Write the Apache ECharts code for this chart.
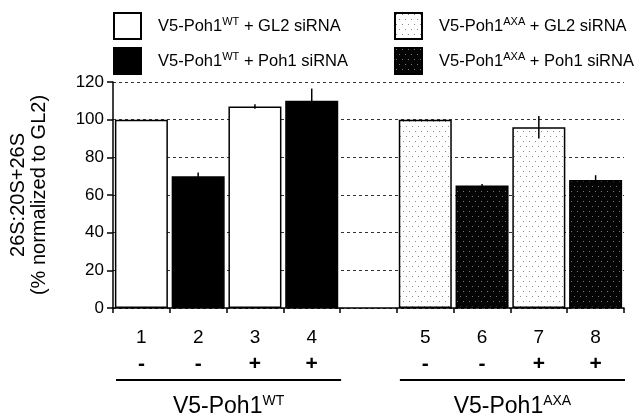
<!DOCTYPE html>
<html><head><meta charset="utf-8">
<script src="https://cdn.jsdelivr.net/npm/echarts@6/dist/echarts.min.js"></script>
<style>html,body{margin:0;padding:0;background:#fff}#c{width:637px;height:413px}</style>
</head><body><div id="c"></div>
<script>
const categories = ['1','2','3','4','','5','6','7','8'];
const signs = ['-','-','+','+','','-','-','+','+'];
const seriesNames = ['V5-Poh1WT + GL2 siRNA','V5-Poh1WT + Poh1 siRNA','V5-Poh1AXA + GL2 siRNA','V5-Poh1AXA + Poh1 siRNA'];
const wtGL2   = [100, null, 107, null, null, null, null, null, null];
const wtPoh1  = [null, 70, null, 110, null, null, null, null, null];
const axaGL2  = [null, null, null, null, null, 100, null, 96, null];
const axaPoh1 = [null, null, null, null, null, null, 65, null, 68];
const errors  = [0, 2, 1.2, 6.5, null, 0, 0.8, 6, 2.5];
const groupLabels = ['V5-Poh1{sup|WT}', 'V5-Poh1{sup|AXA}'];
const groupRanges = [[0, 3], [5, 8]];

const FONT = 'Liberation Sans, Arial, sans-serif';

function pattern(bg, dot) {
  const c = document.createElement('canvas');
  c.width = 6; c.height = 10;
  const g = c.getContext('2d');
  g.fillStyle = bg; g.fillRect(0, 0, 6, 10);
  g.fillStyle = dot;
  g.fillRect(1, 1, 1, 1);
  g.fillRect(4, 6, 1, 1);
  return { image: c, repeat: 'repeat' };
}
const fills = ['#ffffff', '#000000', pattern('#ffffff', '#8a8a8a'), pattern('#050505', '#777777')];
const seriesData = [wtGL2, wtPoh1, axaGL2, axaPoh1];

const combined = categories.map((c, i) => {
  for (const s of seriesData) if (s[i] != null) return s[i];
  return null;
});
const errData = [];
combined.forEach((v, i) => {
  if (v != null && errors[i]) errData.push([i, v - errors[i], v + errors[i]]);
});

const chart = echarts.init(document.getElementById('c'));
const supRich = { sup: { fontSize: 11, fontFamily: FONT, color: '#000', verticalAlign: 'top', padding: [0, 0, 8, 0] } };
const legendBase = {
  orient: 'vertical', top: 12, itemWidth: 27, itemHeight: 26, itemGap: 7, padding: 0,
  icon: 'rect',
  formatter: n => n.replace(/WT|AXA/, '{sup|$&}'),
  textStyle: { fontSize: 16.5, fontFamily: FONT, color: '#000', padding: [0, 0, 0, 12], rich: supRich }
};

chart.setOption({
  animation: false,
  textStyle: { fontFamily: FONT, color: '#000' },
  legend: [
    Object.assign({}, legendBase, { left: 113, data: [seriesNames[0], seriesNames[1]] }),
    Object.assign({}, legendBase, { left: 394, data: [seriesNames[2], seriesNames[3]] })
  ],
  grid: { left: 111, right: 13, top: 82, bottom: 105 },
  xAxis: {
    type: 'category', data: categories, boundaryGap: true,
    axisLine: { lineStyle: { color: '#000', width: 1.5 } },
    axisTick: { show: true, length: 5, lineStyle: { color: '#000', width: 1.5 } },
    axisLabel: {
      interval: 0, margin: 17, color: '#000',
      formatter: (v, i) => v ? `{n|${v}}\n{s|${signs[i]}}` : '',
      rich: {
        n: { fontSize: 19, lineHeight: 26, fontFamily: FONT, color: '#000' },
        s: { fontSize: 21, lineHeight: 26, fontWeight: 'bold', fontFamily: FONT, color: '#000' }
      }
    }
  },
  yAxis: {
    type: 'value', min: 0, max: 120, interval: 20,
    name: '26S:20S+26S\n(% normalized to GL2)',
    nameLocation: 'middle', nameRotate: 90, nameGap: 63,
    nameTextStyle: { fontSize: 20, lineHeight: 21, color: '#000', fontFamily: FONT },
    axisLine: { show: true, lineStyle: { color: '#000', width: 1.5 } },
    axisTick: { show: true, length: 6, lineStyle: { color: '#000', width: 1.5 } },
    axisLabel: { fontSize: 17, color: '#000', margin: 9 },
    splitLine: { show: true, lineStyle: { color: '#333', type: [3, 3], width: 1 } }
  },
  series: seriesData.map((d, k) => ({
    name: seriesNames[k], type: 'bar', data: d, barWidth: 53, barGap: '-100%',
    itemStyle: { color: fills[k], borderColor: '#000', borderWidth: 1.5 }
  })).concat([{
    type: 'custom', data: errData, encode: { x: 0, y: [1, 2] }, z: 10,
    renderItem: (params, api) => {
      const p1 = api.coord([api.value(0), api.value(1)]);
      const p2 = api.coord([api.value(0), api.value(2)]);
      return { type: 'line', shape: { x1: p1[0], y1: p1[1], x2: p2[0], y2: p2[1] }, style: { stroke: '#000', lineWidth: 1.5 } };
    }
  }])
});

const c0 = chart.convertToPixel({ xAxisIndex: 0 }, 0);
const c1 = chart.convertToPixel({ xAxisIndex: 0 }, 1);
const band = c1 - c0;
const y0 = chart.convertToPixel({ yAxisIndex: 0 }, 0);
const graphics = [];
groupRanges.forEach((r, k) => {
  const xa = chart.convertToPixel({ xAxisIndex: 0 }, r[0]) - band / 2 + 3;
  const xb = chart.convertToPixel({ xAxisIndex: 0 }, r[1]) + band / 2 + 1;
  graphics.push({ type: 'line', shape: { x1: xa, y1: y0 + 72, x2: xb, y2: y0 + 72 }, style: { stroke: '#000', lineWidth: 2 } });
  graphics.push({ type: 'text', x: (xa + xb) / 2, y: y0 + 99,
    style: { text: groupLabels[k], align: 'center', verticalAlign: 'middle', fontSize: 23, fontFamily: FONT, fill: '#000',
      rich: { sup: { fontSize: 14, fontFamily: FONT, fill: '#000', verticalAlign: 'top', padding: [0, 0, 11, 0] } } } });
});
chart.setOption({ graphic: graphics });
</script></body></html>
